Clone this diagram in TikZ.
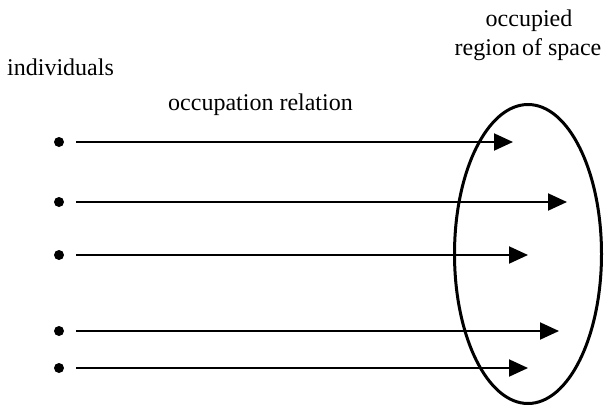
\documentclass[tikz,border=0pt]{standalone}
\usepackage{fontspec}
\setmainfont{Liberation Serif}
\usetikzlibrary{arrows.meta,shapes.geometric}
\begin{document}
\begin{tikzpicture}[x=1pt,y=-1pt,
  lbl/.style={inner sep=0pt,font=\fontsize{24}{28}\selectfont},
  dotnode/.style={circle,fill=black,inner sep=0pt,minimum size=10pt},
  arr/.style={line width=2pt,-{Triangle[length=19pt,width=17pt]},shorten <=12pt},
  regionshape/.style={ellipse,draw,line width=3pt,inner sep=0pt,minimum width=147pt,minimum height=299pt}]
\useasboundingbox (0,0) rectangle (605,407);
\node[lbl,anchor=base west] (ind) at (7,75) {individuals};
\node[lbl,anchor=base west] (occ) at (168,110) {occupation relation};
\node[lbl,anchor=base] (oc1) at (529,26) {occupied};
\node[lbl,anchor=base] (oc2) at (528,55) {region of space};
\node[regionshape] (reg) at (528,254) {};
\node[dotnode] (d1) at (59,142) {};
\node[dotnode] (d2) at (59,202) {};
\node[dotnode] (d3) at (59,255) {};
\node[dotnode] (d4) at (59,331) {};
\node[dotnode] (d5) at (59,368) {};
\coordinate (t1) at (513,142);
\coordinate (t2) at (567,202);
\coordinate (t3) at (528,255);
\coordinate (t4) at (559,331);
\coordinate (t5) at (528,368);
\draw[arr] (d1.east) -- (t1);
\draw[arr] (d2.east) -- (t2);
\draw[arr] (d3.east) -- (t3);
\draw[arr] (d4.east) -- (t4);
\draw[arr] (d5.east) -- (t5);
\end{tikzpicture}
\end{document}
